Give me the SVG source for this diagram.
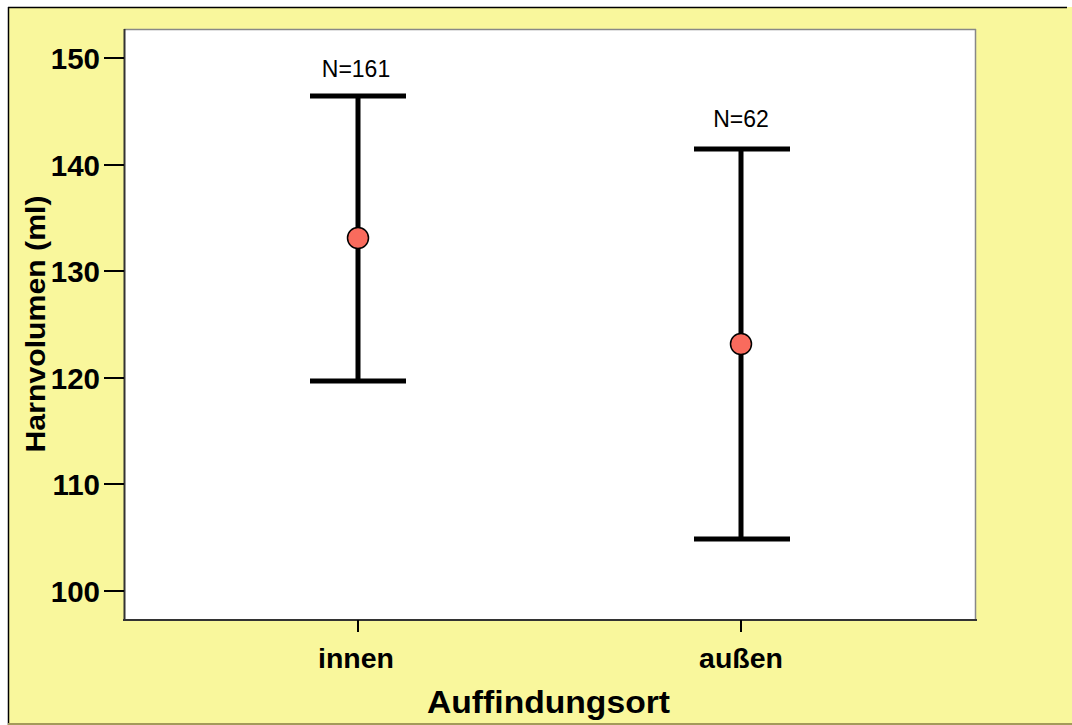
<svg xmlns="http://www.w3.org/2000/svg" width="1072" height="725" viewBox="0 0 1072 725">
<style>
.tick{font-family:"Liberation Sans",Arial,sans-serif;font-weight:bold;font-size:29.5px;fill:#000}
.cat{font-family:"Liberation Sans",Arial,sans-serif;font-weight:bold;font-size:28.5px;fill:#000;text-anchor:middle}
.title{font-family:"Liberation Sans",Arial,sans-serif;font-weight:bold;fill:#000;text-anchor:middle}
.n{font-family:"Liberation Sans",Arial,sans-serif;font-size:23px;fill:#000;text-anchor:middle}
.bar{stroke:#000;stroke-width:5;fill:none}
.mean{fill:#f96b5d;stroke:#000;stroke-width:1.5}
.ax{stroke:#000;stroke-width:2}
</style>
<rect x="0" y="0" width="1072" height="725" fill="#fff"/>
<rect x="8" y="7" width="1070" height="720" fill="#f9f79c"/>
<line x1="8" y1="7.5" x2="1067" y2="7.5" stroke="#000" stroke-width="1.5"/>
<line x1="8.5" y1="7" x2="8.5" y2="725" stroke="#000" stroke-width="1.5"/>
<line x1="8" y1="724" x2="1072" y2="724" stroke="#a39a5a" stroke-width="2"/>
<g id="plot">
<rect x="124" y="29" width="852" height="591" fill="#fff"/>
<line x1="124" y1="29.5" x2="976" y2="29.5" stroke="#888" stroke-width="1.5"/>
<line x1="975.5" y1="29" x2="975.5" y2="620" stroke="#888" stroke-width="1.5"/>
<line x1="124.5" y1="29" x2="124.5" y2="621" stroke="#333" stroke-width="2"/>
<line x1="123" y1="620" x2="977" y2="620" stroke="#333" stroke-width="2"/>
</g>
<g id="yaxis">
<g class="ax">
<line x1="104" y1="58" x2="124" y2="58"/>
<line x1="104" y1="165" x2="124" y2="165"/>
<line x1="104" y1="271" x2="124" y2="271"/>
<line x1="104" y1="378" x2="124" y2="378"/>
<line x1="104" y1="484" x2="124" y2="484"/>
<line x1="104" y1="591" x2="124" y2="591"/>
</g>
<g class="tick" text-anchor="end">
<text x="100" y="69">150</text>
<text x="100" y="176">140</text>
<text x="100" y="282">130</text>
<text x="100" y="389">120</text>
<text x="100" y="495">110</text>
<text x="100" y="602">100</text>
</g>
<text class="title" font-size="28" textLength="257" lengthAdjust="spacingAndGlyphs" transform="translate(45,324) rotate(-90)">Harnvolumen (ml)</text>
</g>
<g id="xaxis">
<line class="ax" x1="358" y1="620" x2="358" y2="632"/>
<line class="ax" x1="741" y1="620" x2="741" y2="632"/>
<text class="cat" x="356" y="668">innen</text>
<text class="cat" x="741" y="668">außen</text>
<text class="title" font-size="31" textLength="243" lengthAdjust="spacingAndGlyphs" x="548.5" y="713">Auffindungsort</text>
</g>
<g id="connectors">
<path class="bar" d="M310 96H406M358 96V381M310 381H406"/>
<path class="bar" d="M694 149H790M741 149V539M694 539H790"/>
</g>
<g id="innen">
<circle class="mean" cx="358" cy="238" r="10.5"/>
<text class="n" x="356" y="77">N=161</text>
</g>
<g id="aussen">
<circle class="mean" cx="741" cy="344" r="10.5"/>
<text class="n" x="741" y="127">N=62</text>
</g>
</svg>
